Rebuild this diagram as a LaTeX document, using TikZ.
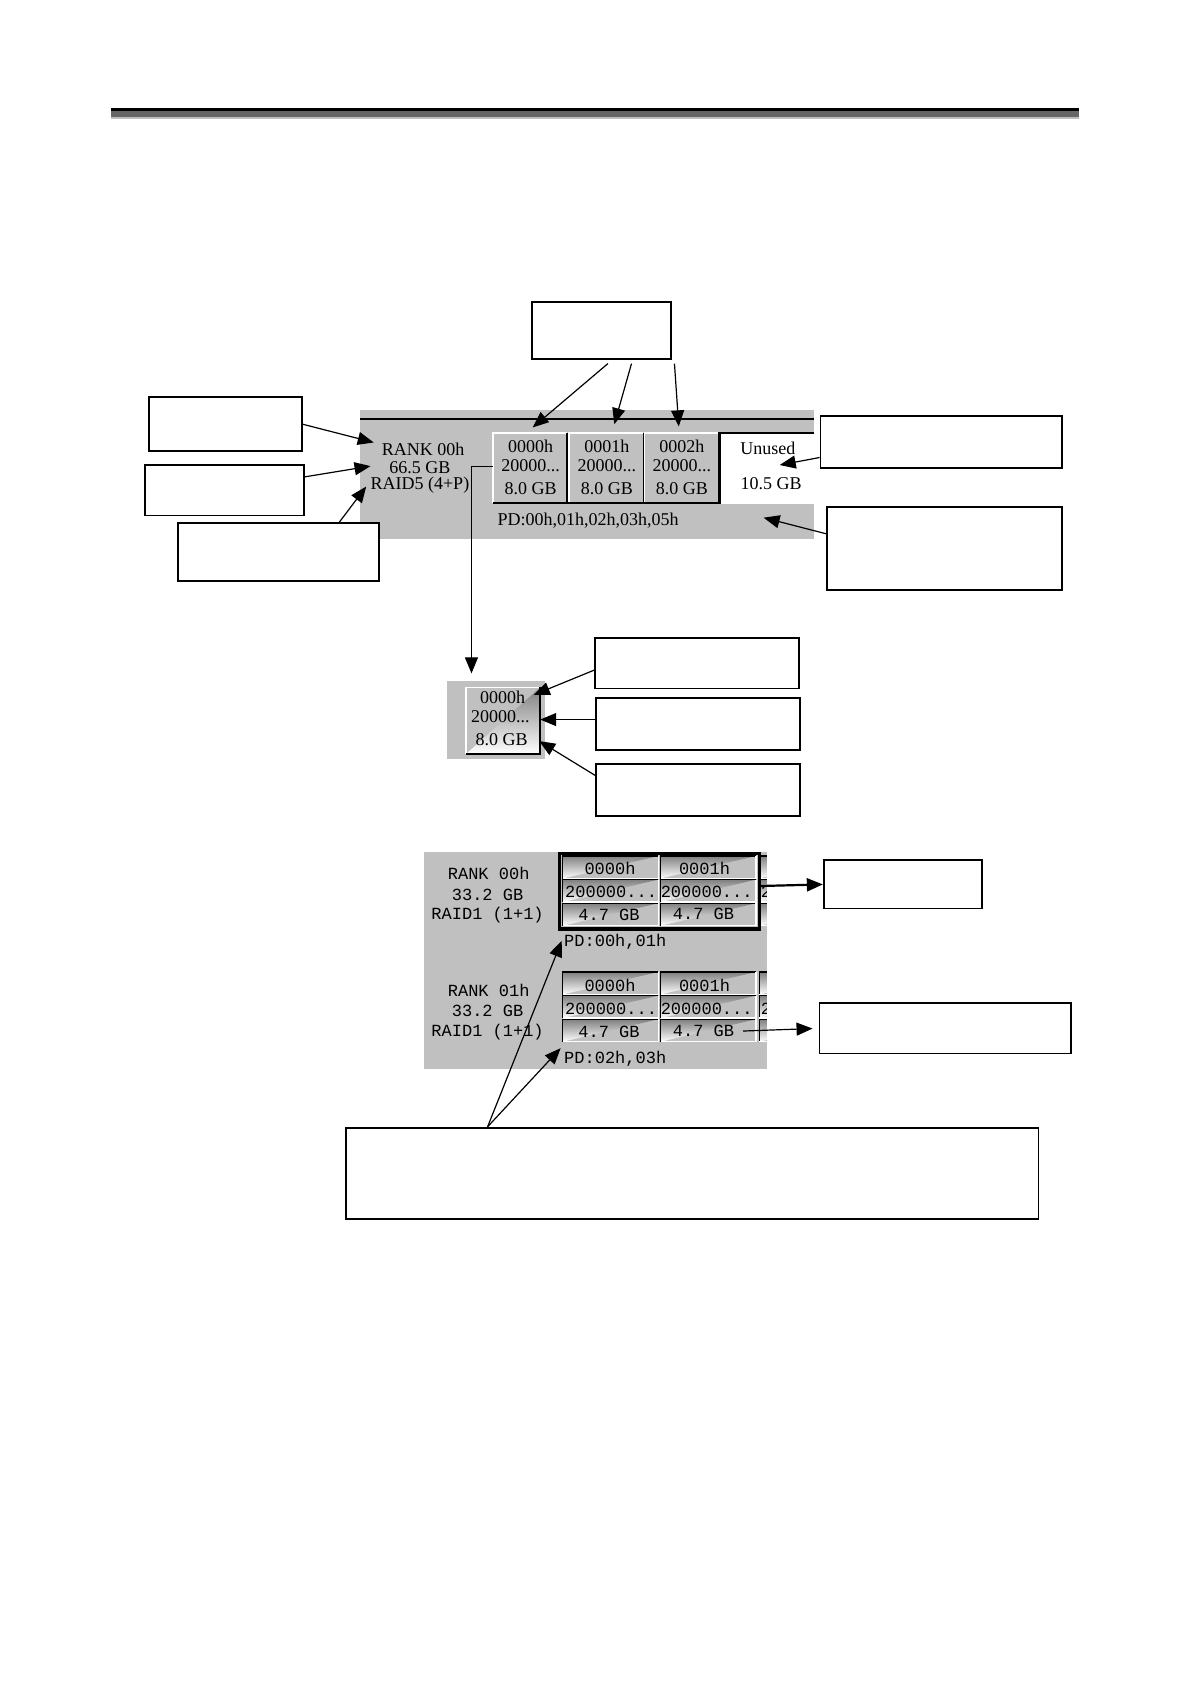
\documentclass[tikz,border=0pt]{standalone}
\usepackage{fontspec}
\setmainfont{Liberation Serif}
\newfontfamily\monofam{Liberation Mono}
\usetikzlibrary{arrows.meta,fit}
\definecolor{panel}{HTML}{C0C0C0}
\definecolor{shade}{HTML}{404040}
\begin{document}
\begin{tikzpicture}[x=0.537pt,y=-0.537pt,
  callout/.style={draw, line width=0.9pt, fill=white, inner sep=0pt},
  arr/.style={-{Triangle[length=8pt,width=6.5pt]}, line width=0.6pt},
  serif/.style={font=\fontsize{9}{10}\selectfont, inner sep=0pt},
  mono/.style={font=\monofam\fontsize{8.5}{10}\selectfont, inner sep=0pt},
  raised/.style={line width=0.8pt},
]
\useasboundingbox (0,0) rectangle (1108,1568);

% header rule
\fill[black] (103,101) rectangle (1005,103.5);
\fill[black!60] (103,103.5) rectangle (1005,108.5);
\fill[black!25] (103,108.5) rectangle (1005,111);

% ---------- top panel ----------
\fill[panel] (335,382) rectangle (758,502);
\draw[line width=1.3pt] (335,390) -- (758,390);
\foreach \x/\t [count=\i] in {459/0000h, 530/0001h, 600/0002h}{
  \draw[white, raised] (\x,468) -- (\x,403) -- (\x+69,403);
  \draw[shade, raised] (\x+69,403) -- (\x+69,468);
  \node[serif] (cA\i) at (\x+35,416) {\t};
  \node[serif] (cB\i) at (\x+35,434) {20000...};
  \node[serif] (cC\i) at (\x+35,455) {8.0 GB};
}
\draw[line width=1.1pt] (459,468.5) -- (670,468.5);
\fill[white] (670,403) rectangle (758,469);
\draw[line width=1.1pt] (670,469) -- (670,403) -- (758,403);
\node[serif] (unused) at (715,417) {Unused};
\node[serif] (unusedgb) at (718,450) {10.5 GB};
\node[serif] (rank) at (394,418) {RANK 00h};
\node[serif] (cap) at (391,435) {66.5 GB};
\node[serif] (raid) at (391,452) {RAID5 (4+P)};
\node[serif, anchor=west] (pd) at (463,485) {PD:00h,01h,02h,03h,05h};

% ---------- small panel ----------
\fill[panel] (416,634) rectangle (507,707);
\draw[white, raised] (434,702) -- (434,640) -- (503,640);
\draw[shade, line width=1pt] (503,640) -- (503,702) -- (434,702);
\node[serif] (sA) at (468,649) {0000h};
\node[serif] (sB) at (466,667) {20000...};
\node[serif] (sC) at (467,689) {8.0 GB};

% ---------- bottom panel ----------
\fill[panel] (395,793) rectangle (714,995);
\begin{scope}
\clip (395,793) rectangle (714,995);
\foreach \y in {797,819,841,905,927,949}{
  \foreach \x in {524,615,707}{
    \draw[shade, line width=0.7pt] (\x,\y+21) -- (\x,\y) -- (\x+89,\y);
    \draw[white, line width=0.7pt] (\x+89,\y) -- (\x+89,\y+21) -- (\x,\y+21);
  }
}
\node[mono, anchor=west] (p1) at (708,830) {200000...};
\node[mono, anchor=west] (p2) at (708,939) {200000...};
\end{scope}
\draw[line width=1.6pt] (521,795) rectangle (707,865);

\node[mono] (r1a) at (455,813) {RANK 00h};
\node[mono] (r1b) at (454,833) {33.2 GB};
\node[mono] (r1c) at (454,852) {RAID1 (1+1)};
\node[mono] (r2a) at (455,922) {RANK 01h};
\node[mono] (r2b) at (454,941) {33.2 GB};
\node[mono] (r2c) at (454,961) {RAID1 (1+1)};

\node[mono] (g1a) at (568,809) {0000h};
\node[mono] (g1b) at (656,809) {0001h};
\node[mono] (g1c) at (569,830) {200000...};
\node[mono] (g1d) at (658,830) {200000...};
\node[mono] (g1e) at (567,852) {4.7 GB};
\node[mono] (g1f) at (655,851) {4.7 GB};
\node[mono] (g2a) at (568,918) {0000h};
\node[mono] (g2b) at (656,918) {0001h};
\node[mono] (g2c) at (569,939) {200000...};
\node[mono] (g2d) at (658,939) {200000...};
\node[mono] (g2e) at (567,961) {4.7 GB};
\node[mono] (g2f) at (655,960) {4.7 GB};
\node[mono, anchor=west] (pd1) at (525,877) {PD:00h,01h};
\node[mono, anchor=west] (pd2) at (525,986) {PD:02h,03h};

% ---------- callout boxes ----------
\node[callout, fit={(495,281) (625,334)}] (bTop) {};
\node[callout, fit={(139,370) (281,420)}] (bL1) {};
\node[callout, fit={(135,433) (283,480)}] (bL2) {};
\node[callout, fit={(166,487) (353,541)}] (bL3) {};
\node[callout, fit={(764,387) (989,436)}] (bR1) {};
\node[callout, fit={(770,472) (989,549)}] (bR2) {};
\node[callout, fit={(554,594) (744,641)}] (bA) {};
\node[callout, fit={(555,650) (745,698)}] (bB) {};
\node[callout, fit={(555,711) (745,760)}] (bC) {};
\node[callout, fit={(767,801) (914,846)}] (bD) {};
\node[callout, fit={(763,934) (997,981)}] (bE) {};
\node[callout, fit={(322,1050) (967,1135)}] (bF) {};

% ---------- target coordinates ----------
\coordinate (tC1) at (496,398);
\coordinate (tC2) at (572,395);
\coordinate (tC3) at (632,397);
\coordinate (tRank) at (348,412);
\coordinate (tCap) at (345,434);
\coordinate (tRaid) at (341,453);
\coordinate (tUnused) at (726,433);
\coordinate (tPanel) at (711,482);
\coordinate (sTop) at (497,647);
\coordinate (sMid) at (503,670);
\coordinate (sBot) at (502,690);
\coordinate (cellL) at (459,434);
\coordinate (bend) at (439,434);
\coordinate (sPanel) at (439,627);
\coordinate (g1r) at (707,825);
\coordinate (g2r) at (692,960);
\coordinate (tPd1) at (523,876);
\coordinate (tPd2) at (522,976);

% ---------- connectors ----------
\draw[arr] ([yshift=-2pt]bTop.south -| 566,0) -- (tC1);
\draw[arr] ([yshift=-2pt]bTop.south -| 588,0) -- (tC2);
\draw[arr] ([yshift=-2pt]bTop.south -| 628,0) -- (tC3);
\draw[arr] (bL1.east) -- (tRank);
\draw[arr] (bL2.east |- 0,444) -- (tCap);
\draw[arr] (bL3.north -| 316,0) -- (tRaid);
\draw[arr] (bR1.west |- 0,426) -- (tUnused);
\draw[arr] (bR2.west |- 0,497) -- (tPanel);
\draw[arr] (cellL) -- (bend) -- (sPanel);
\draw[arr] (bA.west |- 0,624) -- (sTop);
\draw[arr] (bB.west |- 0,670) -- (sMid);
\draw[arr] (bC.west |- 0,722) -- (sBot);
\draw[arr, line width=1.1pt] (g1r) -- (bD.west);
\draw[arr, shorten >=3pt] (g2r) -- (bE.west);
\draw[arr] (bF.north -| 454,0) -- (tPd1);
\draw[arr] (bF.north -| 454,0) -- (tPd2);
\end{tikzpicture}
\end{document}
